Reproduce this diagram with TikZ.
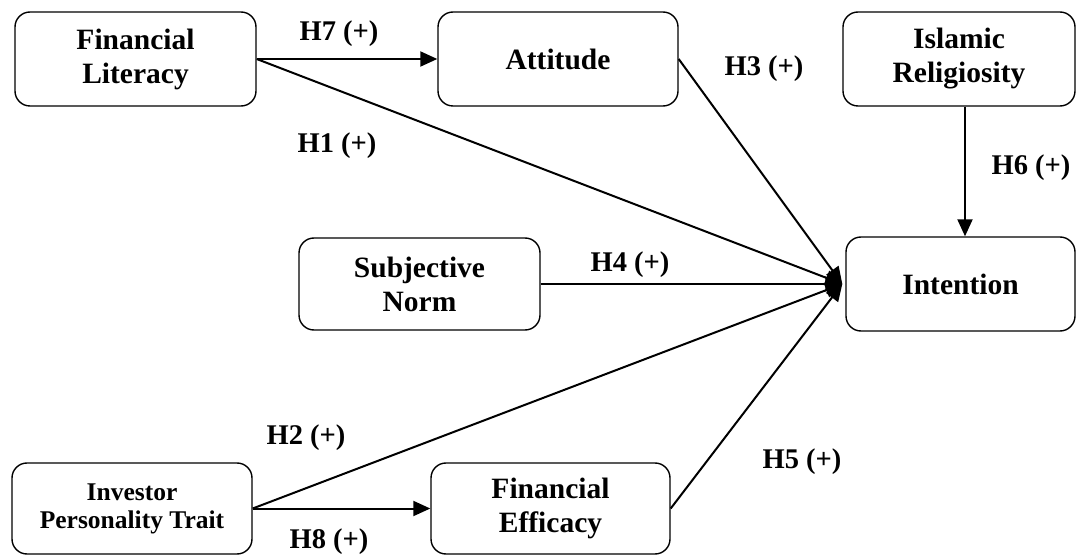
\documentclass[tikz,border=0pt]{standalone}
\usepackage{fontspec}
\setmainfont{Liberation Serif}
\usetikzlibrary{arrows.meta}
\tikzset{
  box/.style={draw, line width=1.4pt, rounded corners=15pt, align=center, anchor=center,
    font=\fontsize{29.5}{34}\selectfont\bfseries, inner sep=0pt},
  arr/.style={line width=2pt, -{Triangle[length=17pt,width=15pt]}},
  lbl/.style={font=\fontsize{28.5}{32}\selectfont\bfseries, inner sep=0pt, anchor=center}
}
\begin{document}
\begin{tikzpicture}[x=1pt,y=-1pt]
\useasboundingbox (0,0) rectangle (1077,556);
\node[box, minimum width=241pt, minimum height=94pt] (fl) at (135.5,59) {Financial\\Literacy};
\node[box, minimum width=240pt, minimum height=94pt] (att) at (558,59) {Attitude};
\node[box, minimum width=232pt, minimum height=94pt] (ir) at (959,59) {Islamic\\Religiosity};
\node[box, minimum width=241pt, minimum height=92pt] (sn) at (419.5,284) {Subjective\\Norm};
\node[box, minimum width=229pt, minimum height=94pt] (int) at (960.5,284) {Intention};
\node[box, minimum width=240pt, minimum height=91pt, font=\fontsize{25.5}{28}\selectfont\bfseries] (ipt) at (132,508.5) {Investor\\Personality Trait};
\node[box, minimum width=239pt, minimum height=91pt] (fe) at (550.5,508.5) {Financial\\Efficacy};
\coordinate (conv) at ([xshift=-3pt]int.west);
\draw[arr] (fl) -- (att);
\draw[arr] (fl.east) -- (conv);
\draw[arr] (att.east) -- (conv);
\draw[arr] (sn) -- (conv);
\draw[arr] (ipt.east) -- (conv);
\draw[arr] (fe.east) -- (conv);
\draw[arr] (ipt) -- (fe);
\draw[arr] ([xshift=6pt]ir.south) -- ([xshift=6pt]ir.south |- int.north);
\node[lbl] (h7) at (339,34) {H7 (+)};
\node[lbl] (h1) at (337,146) {H1 (+)};
\node[lbl] (h3) at (764,69) {H3 (+)};
\node[lbl] (h6) at (1031,168) {H6 (+)};
\node[lbl] (h4) at (630,265) {H4 (+)};
\node[lbl] (h2) at (306,438) {H2 (+)};
\node[lbl] (h5) at (802,462) {H5 (+)};
\node[lbl] (h8) at (329,542) {H8 (+)};
\end{tikzpicture}
\end{document}
